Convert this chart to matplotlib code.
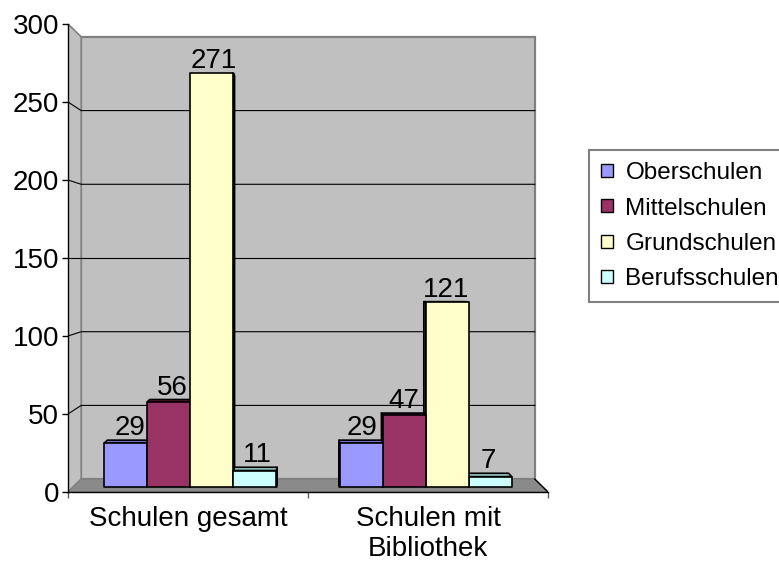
"""
3D-style clustered column chart (Excel look): Schulen gesamt / mit Bibliothek
"""
import matplotlib
matplotlib.use("Agg")
import matplotlib.pyplot as plt
from matplotlib.patches import Polygon, Patch

# --- data ---
categories = ["Schulen gesamt", "Schulen mit\nBibliothek"]
series = ["Oberschulen", "Mittelschulen", "Grundschulen", "Berufsschulen"]
values = {
    "Oberschulen": [29, 29],
    "Mittelschulen": [56, 47],
    "Grundschulen": [271, 121],
    "Berufsschulen": [11, 7],
}
y_ticks = [0, 50, 100, 150, 200, 250, 300]

# --- style ---
face_colors = {
    "Oberschulen": "#9999FF",
    "Mittelschulen": "#993366",
    "Grundschulen": "#FFFFCC",
    "Berufsschulen": "#CCFFFF",
}
shade_colors = {
    "Oberschulen": "#7373C8",
    "Mittelschulen": "#6E2449",
    "Grundschulen": "#C8C89C",
    "Berufsschulen": "#99C8C8",
}
FONT = "Liberation Sans"
FS = 20
plt.rcParams["font.family"] = FONT

YMAX = 300.0
VP = (1.0, YMAX / 2)      # vanishing point in data coords (axes centre)
S_BACK = 0.945            # scale of the back wall
S_BAR_F = 0.98            # bar front face
S_BAR_B = 0.965           # bar back face
BAR_W = 0.183


def proj(x, y, s):
    """Perspective-shrink a front-plane data point towards the vanishing point."""
    return (VP[0] + s * (x - VP[0]), VP[1] + s * (y - VP[1]))


fig = plt.figure(figsize=(7.79, 5.64), dpi=100)
ax = fig.add_axes([68 / 779, 72 / 564, 480 / 779, 468 / 564])
ax.set_xlim(0, 2)
ax.set_ylim(0, YMAX)
ax.patch.set_visible(False)

# --- walls and floor ---
back_wall = [proj(0, 0, S_BACK), proj(2, 0, S_BACK),
             proj(2, YMAX, S_BACK), proj(0, YMAX, S_BACK)]
ax.add_patch(Polygon(back_wall, closed=True, facecolor="#C0C0C0",
                     edgecolor="#808080", lw=1.6, zorder=0.5))
left_wall = [(0, 0), proj(0, 0, S_BACK), proj(0, YMAX, S_BACK), (0, YMAX)]
ax.add_patch(Polygon(left_wall, closed=True, facecolor="#C0C0C0",
                     edgecolor="#808080", lw=1.2, zorder=0.5))
floor = [(0, 0), (2, 0), proj(2, 0, S_BACK), proj(0, 0, S_BACK)]
ax.add_patch(Polygon(floor, closed=True, facecolor="#8A8A8A",
                     edgecolor="#808080", lw=1.0, zorder=0.6))
fx, fy = zip((2, 0), proj(2, 0, S_BACK))
ax.plot(fx, fy, color="black", lw=1.0, zorder=0.7)

# gridlines on left wall and back wall
for v in y_ticks[1:-1]:
    p0 = (0, v)
    p1 = proj(0, v, S_BACK)
    p2 = proj(2, v, S_BACK)
    ax.plot([p0[0], p1[0], p2[0]], [p0[1], p1[1], p2[1]],
            color="black", lw=0.8, zorder=0.8)

# --- bars ---
n = len(series)
bars = []
for gi in range(len(categories)):
    center = gi + 0.5
    for si, name in enumerate(series):
        x0 = center - n / 2 * BAR_W + si * BAR_W
        bars.append((x0, x0 + BAR_W, values[name][gi], name))

# draw bars farther from the vanishing point first
bars.sort(key=lambda b: -abs((b[0] + b[1]) / 2 - VP[0]))
z = 2.0
for x0, x1, v, name in bars:
    fc, sc = face_colors[name], shade_colors[name]
    kw = dict(closed=True, edgecolor="black", lw=1.2, joinstyle="round")
    if x1 < VP[0]:
        side = [proj(x1, 0, S_BAR_F), proj(x1, v, S_BAR_F),
                proj(x1, v, S_BAR_B), proj(x1, 0, S_BAR_B)]
        ax.add_patch(Polygon(side, facecolor=sc, zorder=z, **kw))
    elif x0 > VP[0]:
        side = [proj(x0, 0, S_BAR_F), proj(x0, v, S_BAR_F),
                proj(x0, v, S_BAR_B), proj(x0, 0, S_BAR_B)]
        ax.add_patch(Polygon(side, facecolor=sc, zorder=z, **kw))
    if v < VP[1]:
        top = [proj(x0, v, S_BAR_F), proj(x1, v, S_BAR_F),
               proj(x1, v, S_BAR_B), proj(x0, v, S_BAR_B)]
        ax.add_patch(Polygon(top, facecolor=sc, zorder=z + 0.01, **kw))
    front = [proj(x0, 0, S_BAR_F), proj(x1, 0, S_BAR_F),
             proj(x1, v, S_BAR_F), proj(x0, v, S_BAR_F)]
    ax.add_patch(Polygon(front, facecolor=fc, zorder=z + 0.02, **kw))

    s_lab = S_BAR_B if v < VP[1] else S_BAR_F
    lx, ly = proj((x0 + x1) / 2, v, s_lab)
    ax.annotate(str(v), xy=(lx, ly), xytext=(1, 3.5), textcoords="offset points",
                ha="center", va="baseline", fontsize=FS, zorder=10)
    z += 0.1

# --- axes ---
for side in ("top", "right"):
    ax.spines[side].set_visible(False)
for side in ("left", "bottom"):
    ax.spines[side].set_color("black")
    ax.spines[side].set_linewidth(1.0)
    ax.spines[side].set_zorder(20)

ax.set_yticks(y_ticks)
ax.set_yticklabels([str(t) for t in y_ticks])
ax.tick_params(axis="y", direction="out", length=4.5, width=1.0, pad=2,
               labelsize=FS, color="black")
ax.set_xticks([0, 1, 2])
ax.set_xticklabels(["", "", ""])
ax.tick_params(axis="x", which="major", direction="out", length=4.5,
               width=1.0, color="#606060")
ax.set_xticks([0.5, 1.5], minor=True)
ax.set_xticklabels(categories, minor=True, linespacing=1.22)
ax.tick_params(axis="x", which="minor", length=0, pad=10, labelsize=FS)

# --- legend ---
handles = [Patch(facecolor=face_colors[s], edgecolor="black", lw=1.0) for s in series]
leg = ax.legend(handles, series, loc="upper left",
                bbox_to_anchor=(589 / 779, (564 - 150) / 564),
                bbox_transform=fig.transFigure, frameon=True, fancybox=False,
                edgecolor="#808080", framealpha=1, fontsize=17.5,
                handlelength=0.5, handleheight=0.45, handletextpad=0.5,
                borderpad=0.5, labelspacing=0.55, borderaxespad=0)
leg.get_frame().set_linewidth(1.5)

fig.savefig("out.png", dpi=100)
